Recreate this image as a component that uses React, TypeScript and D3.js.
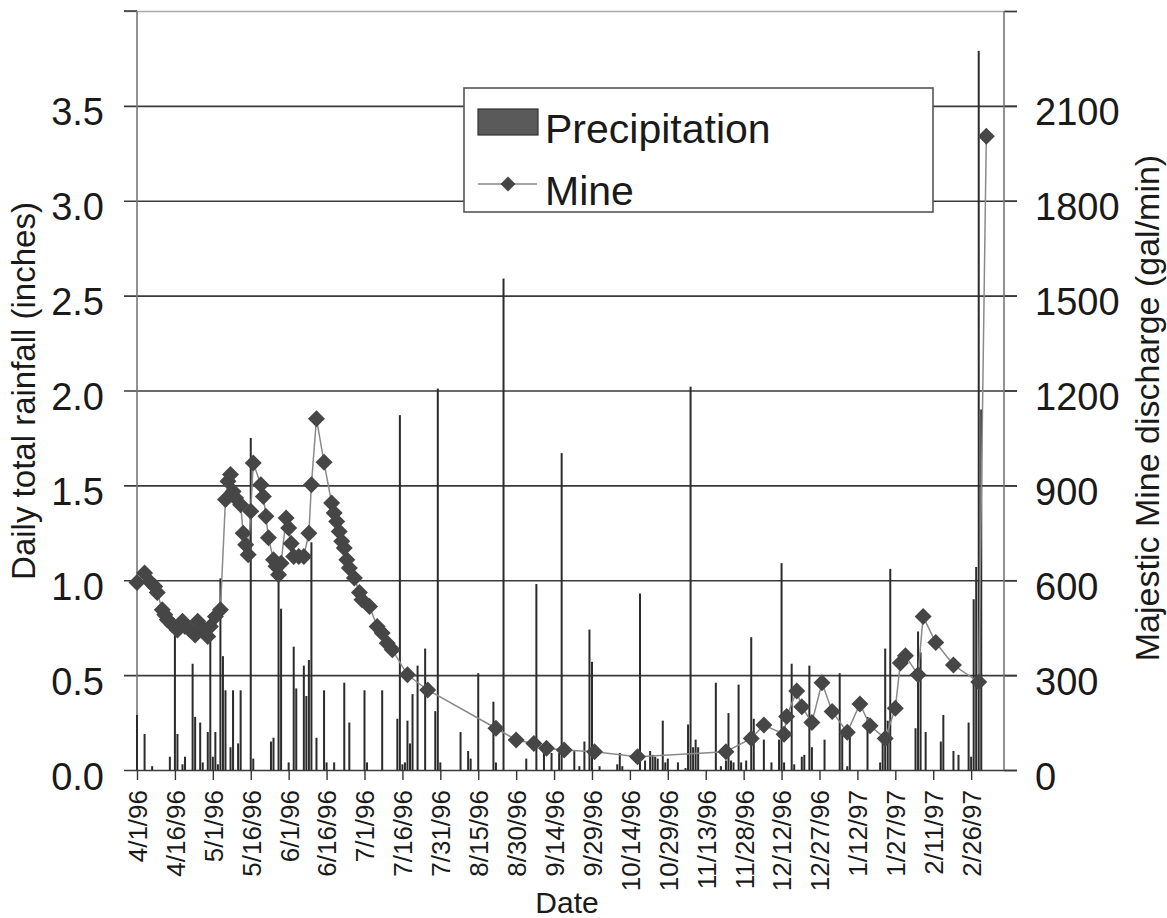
import React, { useEffect, useRef } from "react";
import * as d3 from "d3";

// days counted from 4/1/96
const tickLabels = [
  "4/1/96", "4/16/96", "5/1/96", "5/16/96", "6/1/96", "6/16/96", "7/1/96",
  "7/16/96", "7/31/96", "8/15/96", "8/30/96", "9/14/96", "9/29/96", "10/14/96",
  "10/29/96", "11/13/96", "11/28/96", "12/12/96", "12/27/96", "1/12/97",
  "1/27/97", "2/11/97", "2/26/97",
];

const rainDay = [
  0, 3, 6, 13, 15, 16, 18, 19, 22, 23, 25, 26, 28, 29, 30, 31, 32, 33, 34, 35,
  37, 38, 40, 41, 45, 46, 53, 54, 56, 57, 60, 62, 63, 66, 67, 68, 69, 71, 74,
  75, 78, 82, 84, 90, 91, 97, 103, 104, 105, 106, 107, 108, 109, 111, 114, 118,
  119, 120, 128, 131, 132, 135, 141, 142, 145, 154, 158, 161, 164, 167, 168,
  173, 175, 177, 179, 180, 183, 190, 191, 192, 199, 201, 203, 204, 205, 206,
  208, 209, 210, 214, 217, 218, 219, 220, 221, 222, 229, 231, 233, 234, 235,
  236, 238, 239, 241, 243, 244, 248, 251, 254, 255, 256, 259, 260, 263, 264,
  266, 267, 272, 278, 279, 281, 282, 289, 294, 295, 296, 297, 298, 308, 309,
  310, 312, 318, 319, 323, 325, 329, 330, 331, 332, 333, 334,
];
const rainIn = [
  0.29, 0.19, 0.02, 0.07, 0.72, 0.19, 0.03, 0.07, 0.56, 0.28, 0.25, 0.04, 0.2,
  0.7, 0.07, 0.2, 0.03, 1.01, 0.6, 0.42, 0.12, 0.42, 0.14, 0.42, 1.75, 0.06,
  0.15, 0.17, 1.0, 0.85, 0.04, 0.65, 0.43, 0.55, 0.39, 0.58, 1.2, 0.17, 0.42,
  0.04, 0.04, 0.46, 0.25, 0.42, 0.04, 0.42, 0.27, 1.87, 0.03, 0.04, 0.26, 0.14,
  0.4, 0.55, 0.64, 0.31, 2.01, 0.04, 0.2, 0.1, 0.06, 0.51, 0.36, 0.04, 2.59,
  0.06, 0.98, 0.1, 0.09, 0.09, 1.67, 0.1, 0.02, 0.15, 0.74, 0.57, 0.02, 0.03,
  0.09, 0.02, 0.93, 0.05, 0.1, 0.08, 0.07, 0.06, 0.26, 0.04, 0.06, 0.04, 0.01,
  0.24, 2.02, 0.12, 0.16, 0.12, 0.46, 0.02, 0.05, 0.3, 0.05, 0.04, 0.45, 0.04,
  0.05, 0.7, 0.27, 0.16, 0.04, 0.16, 1.09, 0.04, 0.56, 0.03, 0.07, 0.08, 0.55,
  0.12, 0.16, 0.51, 0.19, 0.02, 0.19, 0.28, 0.04, 0.14, 0.64, 0.26, 1.06, 0.22,
  0.73, 0.62, 0.2, 0.15, 0.29, 0.1, 0.08, 0.25, 0.07, 0.9, 1.07, 3.79, 1.9,
];

const mineDay = [
  0, 3, 5, 7, 8, 10, 11, 12, 14, 16, 18, 19, 21, 23, 24, 26, 28, 29, 31, 33,
  35, 36, 37, 38, 39, 41, 42, 43, 44, 45, 46, 49, 50, 51, 52, 54, 55, 56, 57,
  59, 60, 61, 62, 64, 66, 68, 69, 71, 74, 77, 78, 79, 80, 81, 82, 83, 84, 86,
  88, 89, 92, 95, 97, 99, 101, 107, 115, 142, 150, 157, 162, 169, 181, 198,
  233, 243, 248, 256, 257, 261, 263, 267, 271, 275, 281, 286, 290, 296, 300,
  302, 304, 309, 311, 316, 323, 333, 336,
];
const mineGpm = [
  593, 623, 596, 580, 561, 507, 491, 475, 459, 443, 470, 454, 443, 427, 470,
  449, 422, 454, 485, 507, 855, 913, 934, 881, 860, 839, 749, 712, 681, 818,
  971, 902, 865, 802, 734, 665, 644, 617, 654, 797, 765, 716, 675, 675, 675,
  749, 902, 1111, 973, 844, 813, 786, 754, 723, 702, 665, 639, 607, 561, 538,
  517, 454, 433, 401, 380, 301, 253, 132, 95, 84, 69, 63, 58, 42, 58, 100, 142,
  113, 169, 250, 200, 150, 276, 185, 119, 209, 140, 100, 195, 338, 361, 301,
  485, 403, 332, 278, 2004,
];

const rainTicks = [0, 0.5, 1, 1.5, 2, 2.5, 3, 3.5, 4];
const mineTicks = [0, 300, 600, 900, 1200, 1500, 1800, 2100, 2400];

const W = 1167;
const H = 918;
const FONT = "'Liberation Sans', Arial, Helvetica, sans-serif";

export default function App() {
  const ref = useRef<SVGSVGElement>(null);

  useEffect(() => {
    const svg = d3.select(ref.current);
    svg.selectAll("*").remove();

    const left = 137, right = 1004, top = 11, bottom = 770;
    const x = d3.scaleLinear().domain([0, 343]).range([left, right]);
    const y = d3.scaleLinear().domain([0, 4]).range([bottom, top]);
    const y2 = d3.scaleLinear().domain([0, 2400]).range([bottom, top]);

    // gridlines + left labels
    const gl = svg
      .append("g")
      .attr("transform", `translate(${right + 13},0)`)
      .call(
        d3
          .axisLeft(y)
          .tickValues(rainTicks)
          .tickSize(right + 13 - (left - 13))
          .tickPadding(20)
          .tickFormat((d) => (+d >= 4 ? "" : d3.format(".1f")(+d)))
      );
    gl.select(".domain").remove();
    gl.selectAll(".tick line").attr("stroke", "#3a3a3a").attr("stroke-width", 1.6);
    gl.selectAll(".tick")
      .filter((d) => +d >= 4)
      .select("line")
      .attr("stroke", "#aaa");
    gl.selectAll("text")
      .attr("font-family", FONT)
      .attr("font-size", 38)
      .attr("fill", "#1a1a1a")
      .attr("dy", "0.5em");

    // right axis
    const gr = svg
      .append("g")
      .attr("transform", `translate(${right},0)`)
      .call(
        d3
          .axisRight(y2)
          .tickValues(mineTicks)
          .tickSize(13)
          .tickPadding(18)
          .tickFormat((d) => (+d >= 2400 ? "" : String(d)))
      );
    gr.select(".domain").remove();
    gr.selectAll(".tick line").attr("stroke", "#3a3a3a").attr("stroke-width", 1.6);
    gr.selectAll("text")
      .attr("font-family", FONT)
      .attr("font-size", 38)
      .attr("fill", "#1a1a1a")
      .attr("dy", "0.5em");

    // top-left tick stub
    svg.append("line")
      .attr("x1", left - 13).attr("x2", left)
      .attr("y1", top).attr("y2", top)
      .attr("stroke", "#3a3a3a").attr("stroke-width", 1.6);

    // vertical axis lines
    [left, right].forEach((px) => {
      svg.append("line")
        .attr("x1", px).attr("x2", px)
        .attr("y1", top).attr("y2", bottom)
        .attr("stroke", "#777").attr("stroke-width", 1.6);
    });

    // x axis
    const gx = svg
      .append("g")
      .attr("transform", `translate(0,${bottom})`)
      .call(
        d3
          .axisBottom(x)
          .tickValues(d3.range(0, tickLabels.length * 15, 15))
          .tickSize(10)
          .tickFormat((d, i) => tickLabels[i])
      );
    gx.select(".domain").remove();
    gx.selectAll(".tick line").attr("stroke", "#333").attr("stroke-width", 1.4);
    gx.selectAll("text")
      .attr("font-family", FONT)
      .attr("font-size", 26)
      .attr("fill", "#1a1a1a")
      .attr("text-anchor", "end")
      .attr("transform", "rotate(-90)")
      .attr("x", -20)
      .attr("y", 0)
      .attr("dy", "0.36em");

    // precipitation bars
    svg.append("g")
      .selectAll("rect")
      .data(rainDay)
      .enter()
      .append("rect")
      .attr("x", (d) => x(d) - 1)
      .attr("width", 2)
      .attr("y", (d, i) => y(rainIn[i]))
      .attr("height", (d, i) => bottom - y(rainIn[i]))
      .attr("fill", "#2b2b2b");

    // mine discharge
    const pts: [number, number][] = mineDay.map((d, i) => [x(d), y2(mineGpm[i])]);
    svg.append("path")
      .attr("d", d3.line()(pts))
      .attr("fill", "none")
      .attr("stroke", "#8a8a8a")
      .attr("stroke-width", 1.5);

    const diamond = (r: number) => `M0,${-r}L${r},0L0,${r}L${-r},0Z`;
    svg.append("g")
      .selectAll("path")
      .data(pts)
      .enter()
      .append("path")
      .attr("d", diamond(8.5))
      .attr("transform", (p) => `translate(${p[0]},${p[1]})`)
      .attr("fill", "#464646");

    // legend
    const lg = svg.append("g");
    lg.append("rect")
      .attr("x", 464).attr("y", 88).attr("width", 469).attr("height", 124)
      .attr("fill", "#fff").attr("stroke", "#555").attr("stroke-width", 1.6);
    lg.append("rect")
      .attr("x", 478).attr("y", 109).attr("width", 60).attr("height", 26)
      .attr("fill", "#5a5a5a").attr("stroke", "#333").attr("stroke-width", 1.2);
    lg.append("line")
      .attr("x1", 478).attr("x2", 537).attr("y1", 184).attr("y2", 184)
      .attr("stroke", "#8a8a8a").attr("stroke-width", 1.5);
    lg.append("path")
      .attr("d", diamond(7.5))
      .attr("transform", "translate(508,184)")
      .attr("fill", "#464646");
    lg.append("text")
      .attr("x", 545).attr("y", 143)
      .attr("font-family", FONT).attr("font-size", 41).attr("fill", "#1a1a1a")
      .text("Precipitation");
    lg.append("text")
      .attr("x", 545).attr("y", 205)
      .attr("font-family", FONT).attr("font-size", 41).attr("fill", "#1a1a1a")
      .text("Mine");

    // axis titles
    svg.append("text")
      .attr("transform", "translate(35,391) rotate(-90)")
      .attr("text-anchor", "middle")
      .attr("font-family", FONT).attr("font-size", 33).attr("fill", "#1a1a1a")
      .text("Daily total rainfall (inches)");
    svg.append("text")
      .attr("transform", "translate(1159,408) rotate(-90)")
      .attr("text-anchor", "middle")
      .attr("font-family", FONT).attr("font-size", 34).attr("fill", "#1a1a1a")
      .text("Majestic Mine discharge (gal/min)");
    svg.append("text")
      .attr("x", 567).attr("y", 913)
      .attr("text-anchor", "middle")
      .attr("font-family", FONT).attr("font-size", 30).attr("fill", "#1a1a1a")
      .text("Date");
  }, []);

  return (
    <svg
      ref={ref}
      width={W}
      height={H}
      style={{ position: "absolute", left: 0, top: 0, background: "#fff" }}
    />
  );
}
